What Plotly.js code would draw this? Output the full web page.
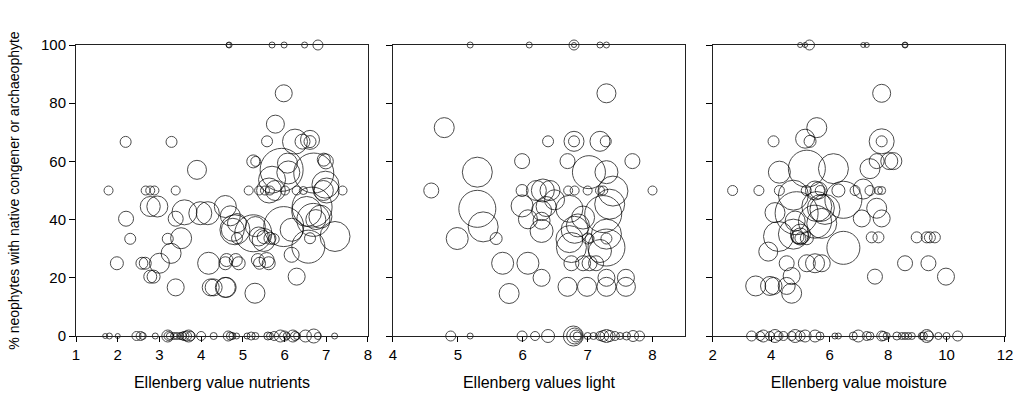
<!DOCTYPE html>
<html>
<head>
<meta charset="utf-8">
<script src="https://cdn.plot.ly/plotly-3.0.1.min.js"></script>
<style>html,body{margin:0;padding:0;background:#fff;}#chart{width:1014px;height:396px;}</style>
</head>
<body>
<div id="chart"></div>
<script>
// Panel 1: Ellenberg value nutrients
const nutX = [4.66,4.67,5.7,5.99,6.48,6.8,
  5.98,5.78,5.58,2.19,3.29,6.25,6.43,6.61,6.61,
  5.25,5.31,5.93,6.09,6.99,6.7,
  1.78,2.67,2.78,2.88,3.39,5.14,5.39,5.53,5.65,5.63,5.78,6.01,6.29,6.45,6.93,7.01,7.39,5.7,6.98,
  2.2,2.3,1.98,2.58,2.66,2.78,2.95,2.78,2.86,3.0,3.2,3.28,3.39,3.39,3.52,3.6,3.9,3.98,4.16,4.18,4.23,4.3,4.58,4.58,4.58,4.7,4.86,4.76,4.86,4.9,4.81,5.25,5.3,5.29,5.38,5.5,5.5,5.4,5.62,5.65,5.74,5.98,6.07,6.17,6.17,6.29,6.53,6.69,6.66,6.61,6.57,7.21,6.94,6.86,6.75,4.61,4.83,5.36,5.57,4.6,
  1.7,1.8,2.0,2.45,2.55,2.6,2.9,3.2,3.22,3.25,3.35,3.42,3.5,3.55,3.6,3.65,3.7,3.75,4.0,4.3,4.65,4.7,4.75,4.85,5.1,5.2,5.3,5.6,5.65,5.75,5.9,6.0,6.05,6.2,6.25,6.3,6.5,6.7,6.8,7.2];
const nutY = [100,100,100,100,100,100,
  83.4,72.8,66.9,66.7,66.7,66.8,66.8,67.4,66.8,
  60,60,57.1,56.2,60,56,
  50,50,50,50,50,50,50,50,50,50,50,50,50,50,50,50,50,53.7,52,
  40.3,33.4,25,25,25,44.5,44.5,20.4,20.4,25,33.4,28.4,40.3,16.7,33.6,42.5,57.1,42.2,42.2,25,16.7,16.7,16.7,25,44.5,41.3,38.8,36.5,33.6,25,36.5,35.3,37.6,14.7,34.2,33,34,25,25,33.6,33.3,37.6,59.4,36.5,27.9,20.4,42.8,39.9,44.3,33.6,30.7,34.2,60.6,41,40,26.1,26.1,26.1,26.1,16.7,
  0,0,0,0,0,0,0,0,0,0,0,0,0,0,0,0,0,0,0,0,0,0,0,0,0,0,0,0,0,0,0,0,0,0,0,0,0,0,0,0];
const nutN = [5,6,6,6,6,10,
  17,18,11,11,11,25,15,19,12,
  13,10,43,23,15,40,
  9,9,9,9,9,9,9,9,9,25,20,9,9,8,20,25,9,27,27,
  15,11,13,12,12,20,21,13,13,20,11,20,15,17,21,25,19,23,23,22,17,17,20,13,22,20,19,23,11,13,30,37,20,20,19,23,13,12,13,12,11,40,20,23,15,17,30,33,40,11,33,30,13,23,20,13,13,13,15,20,
  5,6,5,9,9,7,6,12,9,7,7,7,7,8,9,10,12,9,9,7,10,8,7,6,6,8,7,8,7,9,12,10,7,12,9,7,12,14,7,6];

// Panel 2: Ellenberg values light
const ligX = [5.19,6.1,6.79,6.79,7.19,7.29,
  7.29,4.79,6.39,6.79,6.79,7.19,7.28,5.99,6.69,7.02,7.29,7.69,5.3,
  4.59,8.0,5.99,6.21,6.31,6.42,6.7,6.8,7.0,7.19,7.24,7.39,
  5.3,5.39,5.59,4.99,5.99,6.08,6.29,6.29,6.29,6.36,6.49,6.72,6.72,6.75,6.93,7.0,7.03,6.93,7.03,7.13,7.24,7.29,7.29,7.29,7.34,7.19,6.75,5.69,6.08,6.29,5.79,6.69,6.99,7.29,7.29,7.59,7.59,6.8,6.85,
  4.89,5.19,5.99,6.19,6.39,6.78,6.8,6.82,6.84,7.0,7.09,7.19,7.24,7.29,7.34,7.42,7.5,7.6,7.7,7.8];
const ligY = [100,100,100,100,100,100,
  83.4,71.6,66.9,66.9,66.9,66.9,66.9,60.1,60.1,56.3,56.3,60.1,56.3,
  50,50,50,50,50,50,50,50,50,50,50,49.8,
  43.7,37.5,33.5,33.5,44.7,40.1,43.1,39.6,36.1,44.5,46.8,43.7,33.3,30.4,40.7,33.5,33.5,25,25,25,41.9,35,33.5,30.4,45.3,29.2,25,25,25,20,14.6,16.9,16.9,20,16.9,20,16.9,36.5,38,
  0,0,0,0,0,0,0,0,0,0,0,0,0,0,0,0,0,0,0,0];
const ligN = [6,6,10,5,6,6,
  19,20,11,20,11,20,11,15,15,33,23,15,30,
  15,9,12,20,23,20,9,9,9,9,9,30,
  37,30,12,22,22,19,20,17,23,20,20,27,27,30,23,11,9,15,15,15,37,30,11,37,30,23,15,22,22,17,20,19,19,17,19,17,19,27,23,
  10,6,10,9,13,20,16,12,8,7,7,9,11,13,11,9,7,8,11,10];

// Panel 3: Ellenberg value moisture
const moiX = [4.99,5.16,5.31,7.15,7.27,8.58,8.58,
  7.78,5.56,4.08,5.16,5.33,7.78,7.78,7.61,8.04,8.18,7.38,4.28,5.22,6.13,
  2.68,3.58,4.28,5.2,5.5,5.62,5.68,6.3,6.87,7.15,7.38,7.67,7.78,
  6.47,4.76,4.87,5.56,5.7,5.84,5.5,5.73,4.13,4.82,4.76,5.0,4.9,5.0,4.25,4.99,5.22,3.9,4.53,5.22,5.5,5.73,6.47,7.1,7.61,7.78,7.44,7.67,8.98,9.32,9.43,9.6,8.58,9.38,9.98,7.55,4.7,3.47,3.96,4.08,4.53,4.7,
  3.33,3.62,3.73,3.96,4.13,4.25,4.42,4.7,4.82,4.99,5.16,5.5,5.67,6.18,6.3,6.81,6.98,7.27,7.38,7.78,7.84,7.95,8.3,8.47,8.58,8.69,8.81,9.15,9.21,9.32,9.38,9.72,10.0,10.38];
const moiY = [100,100,100,100,100,100,100,
  83.4,71.6,66.9,67.8,66.9,66.9,66.9,60.1,60.1,60.1,57.5,56.3,57.5,57.5,
  50,50,50,50,50,50,50,50,50,50.5,50,50,50,
  46.8,48.4,42.2,44.5,44,43.5,39.3,38.7,42.4,39.5,35,35,34,33.6,34.2,34.2,33.6,29,25,25,25,25,30.3,40.4,43.9,40.4,33.9,33.9,33.9,33.9,33.9,33.9,25,25,20.4,20.4,20.6,17.2,17.2,17.2,17.2,14.7,
  0,0,0,0,0,0,0,0,0,0,0,0,0,0,0,0,0,0,0,0,0,0,0,0,0,0,0,0,0,0,0,0,0,0];
const moiN = [5,5,10,5,5,6,5,
  18,20,11,19,12,25,11,15,17,17,20,22,37,30,
  10,10,10,10,19,17,10,13,10,20,10,8,8,
  37,30,43,30,27,30,33,30,20,20,30,20,13,11,30,17,13,19,15,17,19,17,33,17,20,17,11,11,11,11,11,11,15,15,17,15,17,20,19,17,17,20,
  10,9,12,9,13,9,9,9,13,10,12,12,8,6,6,8,12,9,8,10,9,7,8,7,7,7,7,7,8,13,10,7,7,10];

const yTitle = "% neophytes with native congener or archaeophyte";
const xTitles = ["Ellenberg value nutrients", "Ellenberg values light", "Ellenberg value moisture"];

const FONT = "Liberation Sans, Arial, sans-serif";
function bubble(x, y, n, xa, ya) {
  return {
    type: "scatter", mode: "markers", x: x, y: y, xaxis: xa, yaxis: ya,
    cliponaxis: false, hoverinfo: "none",
    marker: {size: n, sizemode: "diameter", sizeref: 1, color: "rgba(0,0,0,0)",
             line: {color: "#000", width: 1}}
  };
}
const data = [
  bubble(nutX, nutY, nutN, "x", "y"),
  bubble(ligX, ligY, ligN, "x2", "y2"),
  bubble(moiX, moiY, moiN, "x3", "y3")
];
function xax(dom, range, dtick, title, anchor) {
  return {domain: dom, range: range, dtick: dtick, tick0: 0, anchor: anchor,
    showgrid: false, zeroline: false, showline: true, mirror: true, linecolor: "#222", linewidth: 1,
    ticks: "outside", ticklen: 5, tickcolor: "#000", tickfont: {family: FONT, size: 15, color: "#000"},
    title: {text: title, font: {family: FONT, size: 16, color: "#000"}, standoff: 14}};
}
function yax(anchor, labels) {
  return {domain: [0, 1], range: [0, 100], dtick: 20, anchor: anchor,
    showgrid: false, zeroline: false, showline: true, mirror: true, linecolor: "#222", linewidth: 1,
    ticks: "outside", ticklen: 6, tickcolor: "#000", showticklabels: labels,
    tickfont: {family: FONT, size: 15, color: "#000"}};
}
const ya1 = yax("x", true);
ya1.title = {text: yTitle, font: {family: FONT, size: 14, color: "#000"}, standoff: 18};
const layout = {
  width: 1014, height: 396, showlegend: false,
  margin: {l: 76, r: 9, t: 45, b: 60, pad: 0},
  paper_bgcolor: "#fff", plot_bgcolor: "#fff",
  font: {family: FONT, color: "#000"},
  xaxis: xax([0, 0.3143], [1, 8], 1, xTitles[0], "y"),
  xaxis2: xax([0.3412, 0.6555], [4, 8.5], 1, xTitles[1], "y2"),
  xaxis3: xax([0.6854, 1], [2, 12], 2, xTitles[2], "y3"),
  yaxis: ya1,
  yaxis2: yax("x2", false),
  yaxis3: yax("x3", false)
};
Plotly.newPlot("chart", data, layout, {staticPlot: true, displayModeBar: false});
</script>
</body>
</html>
